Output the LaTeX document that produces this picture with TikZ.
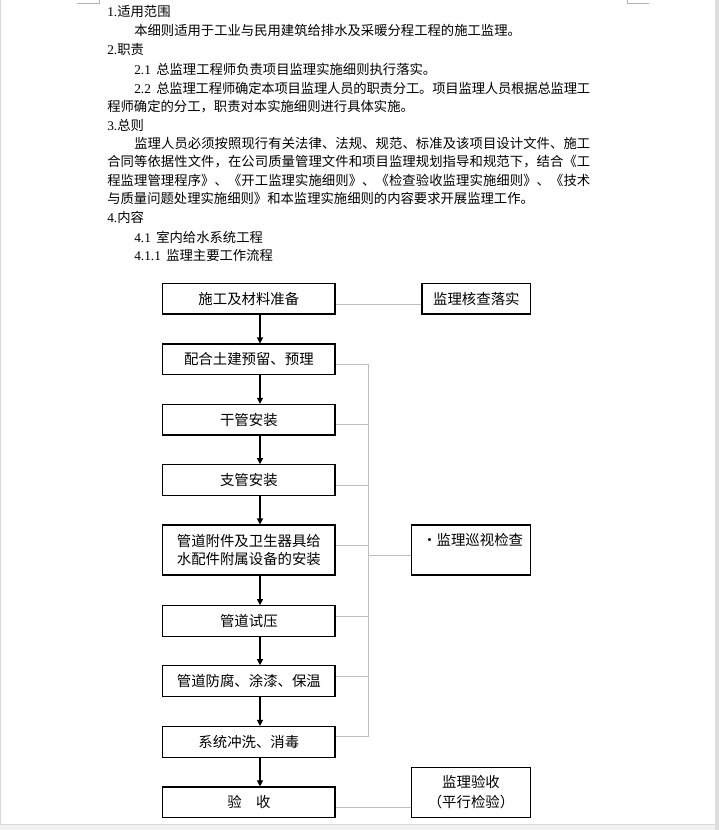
\documentclass[tikz,border=0pt]{standalone}
\usepackage{fontspec}
\setmainfont{Noto Sans CJK SC}
\newfontfamily\tnr{Liberation Serif}
\usetikzlibrary{arrows.meta,calc}
\makeatletter
\def\jline#1#2{\hbox to #1{\jl@first#2\relax}}
\def\jl@first#1{#1\jl@next}
\def\jl@next#1{\ifx#1\relax\else\hskip 0pt plus 1fil minus 1fil\relax #1\expandafter\jl@next\fi}
\makeatother
\tikzset{
  txt/.style={anchor=base west, inner sep=0pt, font=\fontsize{10}{12}\selectfont},
  box/.style={draw=black, line width=0.8pt, inner sep=0pt, align=center, font=\fontsize{10.8}{13.5}\selectfont},
  lbox/.style={box, minimum width=129.2pt, minimum height=23pt},
  rbox/.style={box, minimum width=89pt, minimum height=37.5pt},
  gl/.style={draw=black!25, line width=0.75pt},
  arr/.style={draw=black, line width=0.8pt, -{Triangle[length=4.5pt,width=4.5pt]}},
}
\begin{document}
\begin{tikzpicture}[x=0.75pt,y=-0.75pt]
\useasboundingbox (0,0) rectangle (719,830);
% page frame
\fill[black!5] (0,824) rectangle (719,830);
\fill[black!13] (715,0) rectangle (719,830);
\draw[black!15, line width=0.75pt] (0.6,0) -- (0.6,824) -- (715,824);
\draw[black!30, line width=0.75pt] (77,3.3) -- (99.3,3.3) -- (99.3,0);
\draw[black!30, line width=0.75pt] (649,3.3) -- (627,3.3) -- (627,0);

% body text
\node[txt] (l1) at (107,16.7) {{\tnr 1.}适用范围};
\node[txt] (l2) at (134,36) {本细则适用于工业与民用建筑给排水及采暖分程工程的施工监理。};
\node[txt] (l3) at (107,54.5) {{\tnr 2.}职责};
\node[txt] (l4) at (134,75) {{\tnr 2.1}\hspace{4pt}总监理工程师负责项目监理实施细则执行落实。};
\node[txt] (l5) at (134,94) {{\tnr 2.2}\hspace{4pt}\jline{325.5pt}{总监理工程师确定本项目监理人员的职责分工。项目监理人员根据总监理工}};
\node[txt] (l6) at (107,112) {程师确定的分工，职责对本实施细则进行具体实施。};
\node[txt] (l7) at (107,131) {{\tnr 3.}总则};
\node[txt] (l8) at (134,148.5) {\jline{342pt}{监理人员必须按照现行有关法律、法规、规范、标准及该项目设计文件、施工}};
\node[txt] (l9) at (107,167) {\jline{362.25pt}{合同等依据性文件，在公司质量管理文件和项目监理规划指导和规范下，结合《工}};
\node[txt] (l10) at (107,186) {\jline{362.25pt}{程监理管理程序》、《开工监理实施细则》、《检查验收监理实施细则》、《技术}};
\node[txt] (l11) at (107,204) {与质量问题处理实施细则》和本监理实施细则的内容要求开展监理工作。};
\node[txt] (l12) at (107,223) {{\tnr 4.}内容};
\node[txt] (l13) at (134,242.5) {{\tnr 4.1}\hspace{4pt}室内给水系统工程};
\node[txt] (l14) at (134,260.7) {{\tnr 4.1.1}\hspace{4pt}监理主要工作流程};

% flowchart boxes
\node[lbox] (b1) at (248.85,298.65) {施工及材料准备};
\node[lbox] (b2) at (248.85,359.35) {配合土建预留、预理};
\node[lbox] (b3) at (248.85,419.65) {干管安装};
\node[lbox] (b4) at (248.85,480) {支管安装};
\node[lbox, minimum height=37.5pt] (b5) at (248.85,550) {管道附件及卫生器具给\\水配件附属设备的安装};
\node[lbox] (b6) at (248.85,621) {管道试压};
\node[lbox] (b7) at (248.85,681) {管道防腐、涂漆、保温};
\node[lbox] (b8) at (248.85,741.85) {系统冲洗、消毒};
\node[lbox] (b9) at (248.85,802.3) {验\hspace{1em}收};

\node[box, minimum width=81.5pt, minimum height=23pt] (r1) at (476.35,298.65) {监理核查落实};
\node[rbox] (r2) at (471,550) {};
\node[anchor=base west, inner sep=0pt, font=\fontsize{10.8}{13.5}\selectfont] (r2t) at (422,545) {·监理巡视检查};
\node[rbox, font=\fontsize{10.8}{15}\selectfont] (r3) at (471,792.3) {监理验收\\（平行检验）};

% arrows
\foreach \a/\b in {b1/b2,b2/b3,b3/b4,b4/b5,b5/b6,b6/b7,b7/b8,b8/b9}
  \draw[arr] ([xshift=8.36pt]\a.south) -- ([xshift=8.36pt]\b.north);

% grey connectors
\coordinate (tt) at (368.3,364.3);
\coordinate (tb) at (368.3,736.7);
\draw[gl] (tt) -- (tb);
\coordinate (e1) at ($(b1.east)+(0,5.6)$);
\draw[gl] (e1) -- (e1 -| r1.west);
\foreach \n/\d in {b2/5,b3/4.6,b4/5,b5/-4.3,b6/-5,b7/-4.3,b8/-5}{
  \coordinate (e) at ($(\n.east)+(0,\d)$);
  \draw[gl] (e) -- (e -| tt);
}
\coordinate (e10) at ($(r2.west)+(0,5.7)$);
\draw[gl] (e10 -| tt) -- (e10);
\coordinate (e9) at ($(b9.east)+(0,5)$);
\draw[gl] (e9) -- (e9 -| r3.west);
\end{tikzpicture}
\end{document}
